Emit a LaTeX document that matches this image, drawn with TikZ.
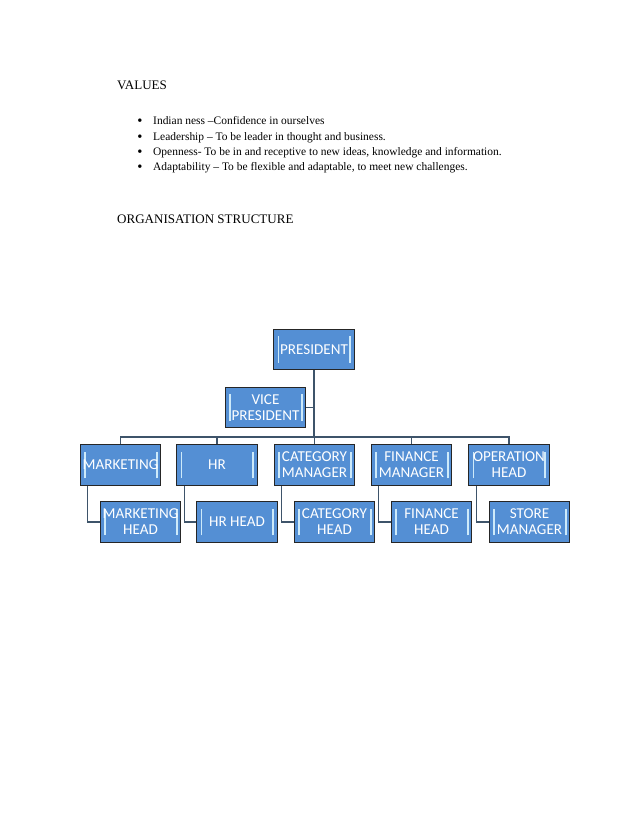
\documentclass[tikz,border=0pt]{standalone}
\usepackage{fontspec}
\setmainfont{Liberation Serif}
\newfontfamily\calibri{Carlito}
\definecolor{boxblue}{RGB}{84,143,212}
\definecolor{barblue}{RGB}{205,234,250}
\definecolor{linkgray}{RGB}{62,84,106}
\tikzset{
	orgbox/.style={draw=black!85, line width=0.9pt, fill=boxblue, text=white,
		minimum width=77.5pt, minimum height=38.5pt, inner sep=0pt, align=center,
		font=\calibri\fontsize{14.5}{15.5}\selectfont,
		path picture={
			\draw[barblue, line width=1.5pt] ([xshift=4.5pt,yshift=6.5pt]path picture bounding box.south west) -- ([xshift=4.5pt,yshift=-6.5pt]path picture bounding box.north west);
			\draw[barblue, line width=1.5pt] ([xshift=-4pt,yshift=6.5pt]path picture bounding box.south east) -- ([xshift=-4pt,yshift=-6.5pt]path picture bounding box.north east);
		}},
	link/.style={draw=linkgray, line width=1pt},
	heading/.style={anchor=base west, inner sep=0pt, font=\fontsize{12.5}{15}\selectfont},
	item/.style={anchor=base west, inner sep=0pt, font=\fontsize{11}{13}\selectfont},
	dot/.style={anchor=base, inner sep=0pt, font=\fontsize{14}{14}\selectfont},
}

\begin{document}
\begin{tikzpicture}[x=0.95925pt, y=-0.95925pt]
		\useasboundingbox (0,0) rectangle (638,826);
		% values
		\node[heading] (values) at (117,89) {VALUES};
		\node[dot] (d1) at (140,125.5) {•};
		\node[item] (v1) at (153,124.5) {Indian ness –Confidence in ourselves};
		\node[dot] (d2) at (140,141) {•};
		\node[item] (v2) at (153,140) {Leadership – To be leader in thought and business.};
		\node[dot] (d3) at (140,156.3) {•};
		\node[item] (v3) at (153,155.3) {Openness- To be in and receptive to new ideas, knowledge and information.};
		\node[dot] (d4) at (140,171.6) {•};
		\node[item] (v4) at (153,170.6) {Adaptability – To be flexible and adaptable, to meet new challenges.};
		\node[heading] (orgtitle) at (117,223) {ORGANISATION STRUCTURE};
		% chart
		\node[orgbox] (pres) at (314,349.5) {PRESIDENT};
		\node[orgbox] (vp) at (265.5,407.5) {VICE\\PRESIDENT};
		\node[orgbox] (mkt) at (120.5,465) {MARKETING};
		\node[orgbox] (hr) at (217,465) {HR};
		\node[orgbox] (cat) at (314.5,465) {CATEGORY\\MANAGER};
		\node[orgbox] (fin) at (411.5,465) {FINANCE\\MANAGER};
		\node[orgbox] (ops) at (509,465) {OPERATION\\HEAD};
		\node[orgbox] (mkth) at (140.5,522) {MARKETING\\HEAD};
		\node[orgbox] (hrh) at (237,522) {HR HEAD};
		\node[orgbox] (cath) at (334.5,522) {CATEGORY\\HEAD};
		\node[orgbox] (finh) at (431.5,522) {FINANCE\\HEAD};
		\node[orgbox] (store) at (529.5,522) {STORE\\MANAGER};
		\coordinate (bar) at (314,437);
		\draw[link] (pres.south) -- (bar);
		\draw[link] (vp.east) -- (vp.east -| pres.south);
		\draw[link] (bar) -| (mkt.north);
		\draw[link] (bar) -| (hr.north);
		\draw[link] (bar) -| (cat.north);
		\draw[link] (bar) -| (fin.north);
		\draw[link] (bar) -| (ops.north);
		\draw[link] ([xshift=7.7pt]mkt.south west) |- (mkth.west);
		\draw[link] ([xshift=7.7pt]hr.south west) |- (hrh.west);
		\draw[link] ([xshift=7.7pt]cat.south west) |- (cath.west);
		\draw[link] ([xshift=7.7pt]fin.south west) |- (finh.west);
		\draw[link] ([xshift=7.7pt]ops.south west) |- (store.west);
	\end{tikzpicture}
\end{document}
